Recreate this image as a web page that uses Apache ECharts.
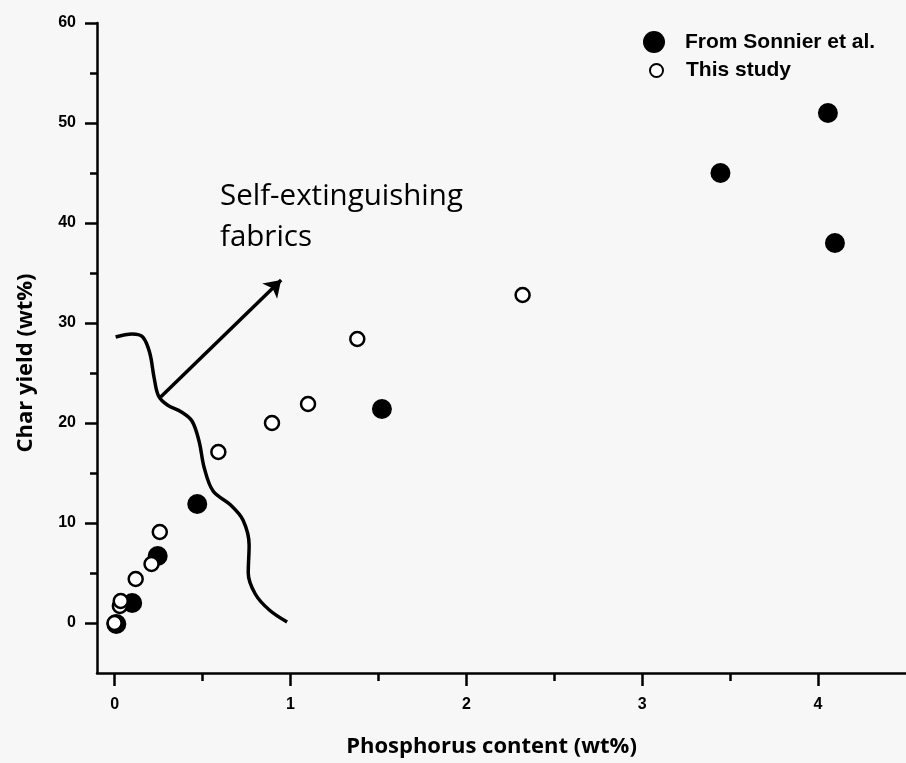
<!DOCTYPE html>
<html><head><meta charset="utf-8">
<script src="https://cdn.jsdelivr.net/npm/echarts@6/dist/echarts.min.js"></script>
<style>html,body{margin:0;padding:0;background:#f7f7f7}#c{width:906px;height:763px}</style>
</head><body><div id="c"></div>
<script>
// Data (Phosphorus content wt%, Char yield wt%)
const sonnierData = [[0.01,-0.1],[0.10,2.0],[0.245,6.7],[0.47,11.9],[1.52,21.4],[3.445,45.0],[4.056,51.0],[4.096,38.0]];
const thisStudyData = [[0.0,0.0],[0.03,1.7],[0.035,2.2],[0.12,4.4],[0.21,5.9],[0.257,9.1],[0.59,17.1],[0.895,20.0],[1.10,21.9],[1.38,28.4],[2.32,32.8]];
// Annotation shapes in data units
const boundaryCurve = [[0.006,28.6],[0.10,28.9],[0.16,28.6],[0.20,27.0],[0.225,24.5],[0.25,22.7],[0.30,21.8],[0.38,21.1],[0.44,20.2],[0.48,18.2],[0.51,15.5],[0.56,13.2],[0.66,11.8],[0.73,10.3],[0.765,7.8],[0.76,5.0],[0.80,2.9],[0.88,1.3],[0.981,0.1]];
const arrowLine = [[0.262,22.6],[0.947,34.3]];
const xMajorTicks = [0,1,2,3,4];
const xMinorTicks = [0.5,1.5,2.5,3.5];
const yMajorTicks = [0,10,20,30,40,50,60];
const yMinorTicks = [5,15,25,35,45,55];

const chart = echarts.init(document.getElementById('c'));
const axisFont = {fontFamily:'Liberation Sans', fontWeight:'bold', fontSize:16, color:'#000'};
chart.setOption({
  backgroundColor:'#f7f7f7',
  animation:false,
  grid:{left:97, right:0, top:23, bottom:90},
  xAxis:[
    {type:'value', min:-0.1, max:4.5,
     name:'Phosphorus content (wt%)', nameLocation:'middle', nameGap:63,
     nameTextStyle:{fontFamily:'Open Sans', fontWeight:'bold', fontSize:22, color:'#000', padding:[0,20,0,0]},
     axisLine:{onZero:false, lineStyle:{color:'#000', width:2.5}},
     axisTick:{customValues:xMajorTicks, length:13, lineStyle:{color:'#000', width:2.5}},
     axisLabel:{customValues:xMajorTicks, margin:24, ...axisFont},
     splitLine:{show:false}},
    {type:'value', min:-0.1, max:4.5, position:'bottom',
     axisLine:{show:false, onZero:false},
     axisTick:{customValues:xMinorTicks, length:8, lineStyle:{color:'#000', width:2.5}},
     axisLabel:{show:false}, splitLine:{show:false}}
  ],
  yAxis:[
    {type:'value', min:-5, max:60,
     name:'Char yield (wt%)', nameLocation:'middle', nameGap:60, nameRotate:90,
     nameTextStyle:{fontFamily:'Open Sans', fontWeight:'bold', fontSize:22, color:'#000', padding:[0,0,0,-30]},
     axisLine:{onZero:false, lineStyle:{color:'#000', width:2.5}},
     axisTick:{customValues:yMajorTicks, length:12, lineStyle:{color:'#000', width:2.5}},
     axisLabel:{customValues:yMajorTicks, margin:21, ...axisFont},
     splitLine:{show:false}},
    {type:'value', min:-5, max:60, position:'left',
     axisLine:{show:false, onZero:false},
     axisTick:{customValues:yMinorTicks, length:7, lineStyle:{color:'#000', width:2.5}},
     axisLabel:{show:false}, splitLine:{show:false}}
  ],
  legend:[
    {data:['From Sonnier et al.'], left:643, top:31, padding:0, itemWidth:22, itemHeight:22,
     icon:'circle', textStyle:{fontFamily:'Liberation Sans', fontWeight:'bold', fontSize:21, color:'#000', padding:[0,0,0,15]}},
    {data:['This study'], left:649, top:60, padding:0, itemWidth:13, itemHeight:13,
     icon:'circle', textStyle:{fontFamily:'Liberation Sans', fontWeight:'bold', fontSize:21, color:'#000', padding:[0,0,0,18]}}
  ],
  graphic:[
    {type:'text', left:220, top:176, style:{text:'Self-extinguishing\nfabrics', fontFamily:'Open Sans', fontSize:29.5, lineHeight:41, fill:'#000'}}
  ],
  series:[
    {type:'line', data:boundaryCurve, smooth:0.35, symbol:'none', silent:true,
     lineStyle:{color:'#000', width:3.5}, z:1},
    {type:'lines', coordinateSystem:'cartesian2d', silent:true, z:1,
     symbol:['none','arrow'], symbolSize:16,
     lineStyle:{color:'#000', width:3.5, opacity:1},
     data:[{coords:arrowLine}]},
    {name:'From Sonnier et al.', type:'scatter', data:sonnierData, symbol:'circle', symbolSize:20,
     itemStyle:{color:'#000', opacity:1}, z:3},
    {name:'This study', type:'scatter', data:thisStudyData, symbol:'circle', symbolSize:14,
     itemStyle:{color:'#fff', borderColor:'#000', borderWidth:2.5, opacity:1}, z:4}
  ]
});
</script></body></html>
